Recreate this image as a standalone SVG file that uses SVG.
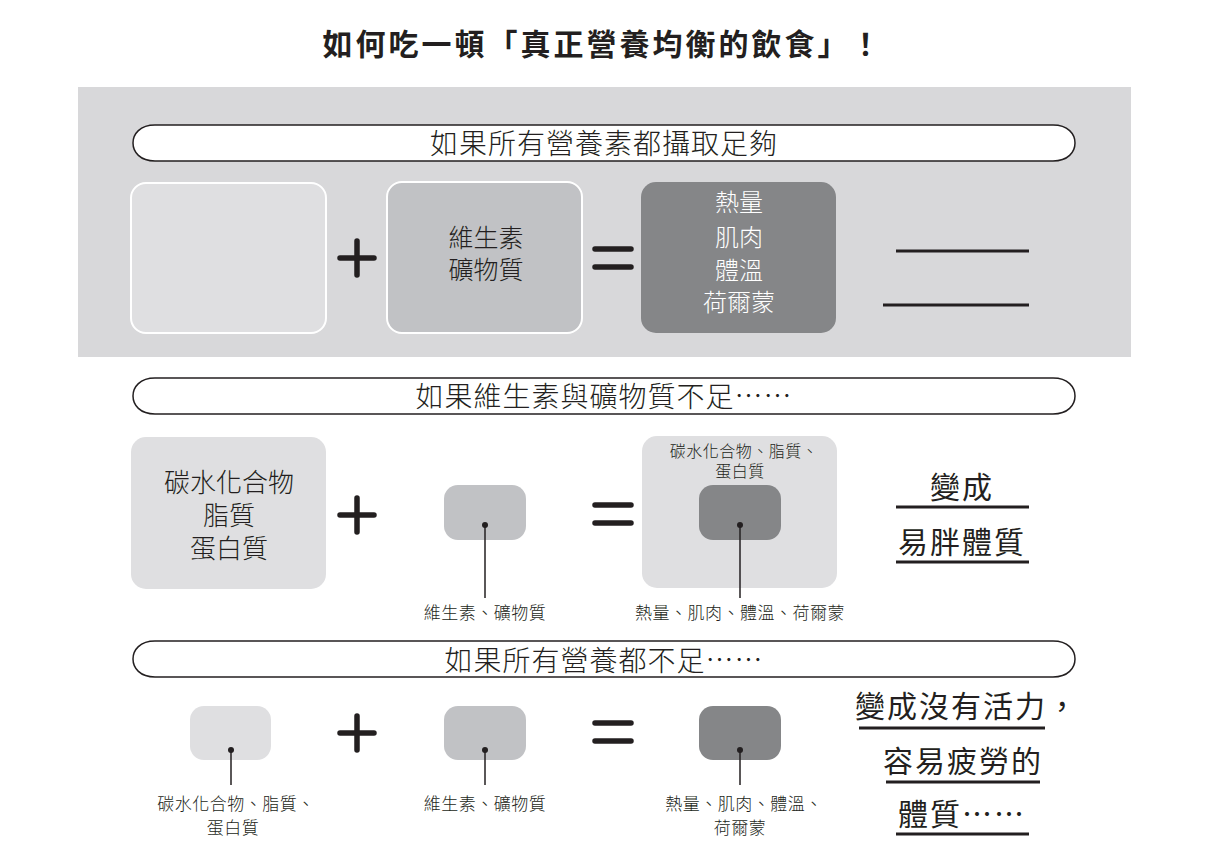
<svg xmlns="http://www.w3.org/2000/svg" width="1217" height="867" viewBox="0 0 1217 867">
<style>
text{font-family:"Noto Sans CJK TC","Liberation Sans","Noto Sans CJK JP",sans-serif;fill:#231f20;text-anchor:middle;font-weight:300}
.title{font-size:30px;font-weight:bold;letter-spacing:3px}
.banner{fill:#fff;stroke:#231f20;stroke-width:1.5}
.bt{font-size:28px;letter-spacing:1px}
.light{fill:#dfdfe1}
.mid{fill:#c1c2c5}
.dark{fill:#858688}
.edge{stroke:#fff;stroke-width:2}
.big{font-size:25px}
.wt{fill:#fff;font-size:24px}
.lab{font-size:17px;letter-spacing:0.5px}
.sm{font-size:16px;letter-spacing:0.5px}
.res{font-size:30px;letter-spacing:2px;font-weight:normal}
.op{stroke:#231f20;stroke-width:5.5;stroke-linecap:round;fill:none}
.rule{stroke:#231f20;stroke-width:3}
.lead{stroke:#231f20;stroke-width:1.5}
.dot{fill:#231f20}
</style>
<defs>
<path id="pill" d="M155,0 H1053 C1068,0 1075,9 1075,18 C1075,27 1068,36 1053,36 H155 C140,36 133,27 133,18 C133,9 140,0 155,0 Z"/>
<g id="plus"><path class="op" d="M-17,0 H17 M0,-17 V17"/></g>
<g id="eq"><path class="op" d="M-18,-9 H18 M-18,9 H18"/></g>
</defs>

<text class="title" x="603" y="55">如何吃一頓「真正營養均衡的飲食」！</text>

<rect id="panel" x="78" y="87" width="1053" height="270" fill="#d8d8da"/>

<!-- Section 1 -->
<g id="banner1"><use href="#pill" class="banner" y="125"/><text class="bt" x="604" y="154">如果所有營養素都攝取足夠</text></g>
<g id="s1-macro"><rect class="light edge" x="131" y="183" width="195" height="150" rx="15"/></g>
<g id="s1-plus"><use href="#plus" x="357" y="258"/></g>
<g id="s1-vit"><rect class="mid edge" x="387" y="182" width="195" height="151" rx="15"/>
<text class="big" x="486" y="247">維生素</text><text class="big" x="486" y="279">礦物質</text></g>
<g id="s1-eq"><use href="#eq" x="613" y="258"/></g>
<g id="s1-result"><rect class="dark" x="641" y="182" width="195" height="151" rx="15"/>
<text class="wt" x="739" y="211">熱量</text><text class="wt" x="739" y="246">肌肉</text>
<text class="wt" x="739" y="279">體溫</text><text class="wt" x="739" y="311">荷爾蒙</text></g>
<g id="s1-blank"><line class="rule" x1="896" y1="251" x2="1029" y2="251"/><line class="rule" x1="883" y1="305" x2="1029" y2="305"/></g>

<!-- Section 2 -->
<g id="banner2"><use href="#pill" class="banner" y="378"/><text class="bt" x="604" y="407">如果維生素與礦物質不足……</text></g>
<g id="s2-macro"><rect class="light" x="131" y="437" width="195" height="152" rx="15"/>
<text class="big" x="229" y="492" style="font-size:26px">碳水化合物</text>
<text class="big" x="229" y="525" style="font-size:26px">脂質</text>
<text class="big" x="229" y="558" style="font-size:26px">蛋白質</text></g>
<g id="s2-plus"><use href="#plus" x="357" y="515"/></g>
<g id="s2-vit"><rect class="mid" x="444" y="485" width="82" height="55" rx="14"/></g>
<g id="s2-eq"><use href="#eq" x="613" y="514"/></g>
<g id="s2-result"><rect class="light" x="642" y="436" width="195" height="152" rx="15"/>
<text class="sm" x="744" y="457">碳水化合物、脂質、</text><text class="sm" x="740" y="477">蛋白質</text>
<rect class="dark" x="699" y="485" width="82" height="55" rx="14"/></g>
<g id="s2-text"><text class="res" x="962" y="498">變成</text><line class="rule" x1="896" y1="507" x2="1029" y2="507"/>
<text class="res" x="962" y="553">易胖體質</text><line class="rule" x1="896" y1="562" x2="1029" y2="562"/></g>

<!-- Section 3 -->
<g id="banner3"><use href="#pill" class="banner" y="641"/><text class="bt" x="604" y="671">如果所有營養都不足……</text></g>
<g id="s3-macro"><rect class="light" x="190" y="706" width="81" height="54" rx="14"/></g>
<g id="s3-plus"><use href="#plus" x="357" y="733"/></g>
<g id="s3-vit"><rect class="mid" x="444" y="706" width="82" height="54" rx="14"/></g>
<g id="s3-eq"><use href="#eq" x="613" y="732"/></g>
<g id="s3-result"><rect class="dark" x="699" y="706" width="82" height="54" rx="14"/></g>
<g id="s3-text"><text class="res" x="967" y="717">變成沒有活力，</text><line class="rule" x1="859" y1="728" x2="1045" y2="728"/>
<text class="res" x="963" y="772">容易疲勞的</text><line class="rule" x1="886" y1="782" x2="1040" y2="782"/>
<text class="res" x="962" y="825">體質……</text><line class="rule" x1="896" y1="834" x2="1029" y2="834"/></g>

<!-- connectors -->
<g id="connectors">
<circle class="dot" cx="485" cy="525" r="3"/><line class="lead" x1="485" y1="525" x2="485" y2="598"/>
<circle class="dot" cx="740" cy="525" r="3"/><line class="lead" x1="740" y1="525" x2="740" y2="598"/>
<circle class="dot" cx="231" cy="750" r="3"/><line class="lead" x1="231" y1="750" x2="231" y2="785"/>
<circle class="dot" cx="485" cy="750" r="3"/><line class="lead" x1="485" y1="750" x2="485" y2="785"/>
<circle class="dot" cx="740" cy="750" r="3"/><line class="lead" x1="740" y1="750" x2="740" y2="785"/>
</g>
<g id="labels">
<text class="lab" x="485" y="619">維生素、礦物質</text>
<text class="lab" x="740" y="619">熱量、肌肉、體溫、荷爾蒙</text>
<text class="lab" x="236" y="810">碳水化合物、脂質、</text><text class="lab" x="233" y="834">蛋白質</text>
<text class="lab" x="485" y="810">維生素、礦物質</text>
<text class="lab" x="744" y="810">熱量、肌肉、體溫、</text><text class="lab" x="740" y="834">荷爾蒙</text>
</g>
</svg>
